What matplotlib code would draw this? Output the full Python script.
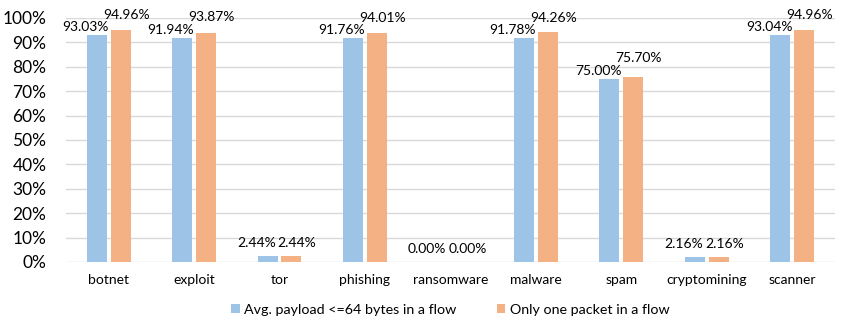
import matplotlib.pyplot as plt
import numpy as np

plt.rcParams['font.family'] = ['Lato', 'DejaVu Sans']

categories = ['botnet', 'exploit', 'tor', 'phishing', 'ransomware',
              'malware', 'spam', 'cryptomining', 'scanner']
avg_payload = [93.03, 91.94, 2.44, 91.76, 0.00, 91.78, 75.00, 2.16, 93.04]
one_packet = [94.96, 93.87, 2.44, 94.01, 0.00, 94.26, 75.70, 2.16, 94.96]
series_names = ['Avg. payload <=64 bytes in a flow', 'Only one packet in a flow']

blue = '#9DC3E6'
orange = '#F4B183'

fig = plt.figure(figsize=(8.45, 3.21), dpi=100)
ax = fig.add_axes([0.078, 0.184, 0.910, 0.760])

x = np.arange(len(categories))
w = 0.234
off = 0.14
ax.bar(x - off, avg_payload, w, color=blue, label=series_names[0], zorder=3)
ax.bar(x + off, one_packet, w, color=orange, label=series_names[1], zorder=3)

# labels: blue a bit left, orange a bit right; orange pushed up when labels collide
for i in range(len(categories)):
    a, o = avg_payload[i], one_packet[i]
    base = 1.5 if a > 50 else 5
    ax.annotate(f'{a:.2f}%', (x[i] - off, a), xytext=(-8, base),
                textcoords='offset points', ha='center', va='bottom', fontsize=10)
    dy = 5
    if a > 50:
        dy = max(4, 10.5 - (o - a) * 1.83)
    ax.annotate(f'{o:.2f}%', (x[i] + off, o), xytext=(4, dy),
                textcoords='offset points', ha='center', va='bottom', fontsize=10)

ax.set_xlim(-0.5, len(categories) - 0.5)
ax.set_ylim(0, 100)
ax.set_yticks(np.arange(0, 101, 10))
ax.set_yticklabels([f'{v}%' for v in range(0, 101, 10)], fontsize=12.5)
ax.set_xticks(x)
ax.set_xticklabels(categories, fontsize=10)
ax.tick_params(axis='both', length=0)
ax.tick_params(axis='x', pad=9)
ax.tick_params(axis='y', pad=14)
ax.grid(axis='y', color='#d9d9d9', linewidth=1, zorder=0)
for s in ax.spines.values():
    s.set_visible(False)

ax.legend(loc='center', bbox_to_anchor=(0.50, -0.195), ncol=2, frameon=False,
          fontsize=10.3, handlelength=0.6, handleheight=0.6, handletextpad=0.3,
          columnspacing=2.8)

plt.savefig('out.png', dpi=100)
